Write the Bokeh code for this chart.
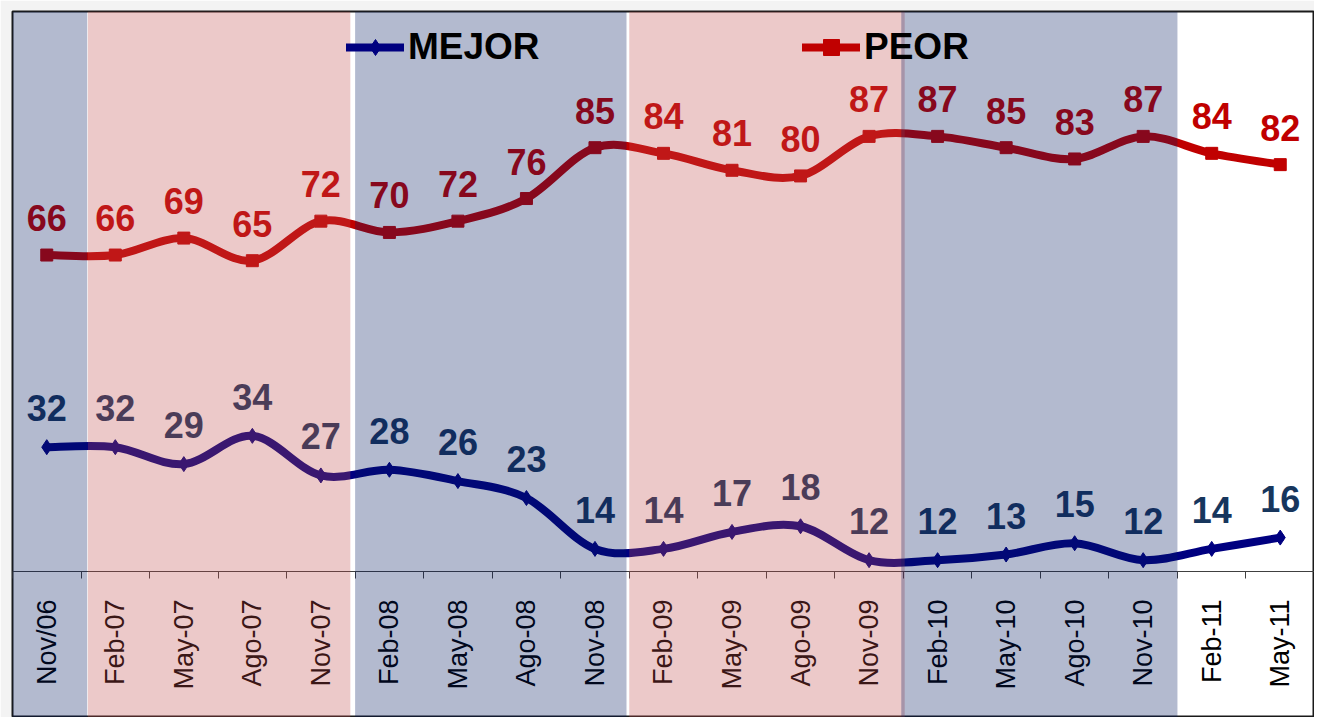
import math
from bokeh.plotting import figure
from bokeh.models import (Range1d, LinearAxis, FixedTicker, BoxAnnotation, Legend,
                          LegendItem, ColumnDataSource)
from bokeh.core.properties import value
from bokeh.embed import file_html
from bokeh.resources import INLINE

# ---- data ----
periods = ["Nov/06", "Feb-07", "May-07", "Ago-07", "Nov-07", "Feb-08", "May-08", "Ago-08",
           "Nov-08", "Feb-09", "May-09", "Ago-09", "Nov-09", "Feb-10", "May-10", "Ago-10",
           "Nov-10", "Feb-11", "May-11"]
mejor = [32, 32, 29, 34, 27, 28, 26, 23, 14, 14, 17, 18, 12, 12, 13, 15, 12, 14, 16]
peor = [66, 66, 69, 65, 72, 70, 72, 76, 85, 84, 81, 80, 87, 87, 85, 83, 87, 84, 82]
# shaded periods (in category units along the axis)
band_starts = [0.0, 1.1, 5.0, 9.0, 12.97]
band_ends = [1.09, 4.93, 8.96, 13.02, 17.0]
band_kind = ["blue", "pink", "blue", "pink", "blue"]

# ---- styles ----
MEJOR_LINE = "#000080"
PEOR_LINE = "#C00000"
MEJOR_TXT = "#17365D"
PEOR_TXT = "#C00000"
BAND_COLORS = {"blue": "#021C5F", "pink": "#C04B4B"}
FONT = value("Liberation Sans")

n = len(periods)
xs = [i + 0.5 for i in range(n)]

p = figure(width=1314, height=717, output_backend="svg", toolbar_location=None,
           x_range=Range1d(0, n), y_range=Range1d(-15.84, 109.1),
           x_axis_type=None, y_axis_type=None,
           min_border_left=12, min_border_right=0, min_border_top=11, min_border_bottom=0)
p.grid.visible = False
p.background_fill_color = "white"
p.border_fill_color = "#F3F3F3"
p.outline_line_color = "#1A1A1A"
p.outline_line_width = 2


def smooth_segments(x, y):
    """Cubic Bezier control points (Catmull-Rom style smoothing, as in spreadsheet charts)."""
    x0, y0, x1, y1, cx0, cy0, cx1, cy1 = [], [], [], [], [], [], [], []
    m = len(x)
    for i in range(m - 1):
        a = max(i - 1, 0)
        d = min(i + 2, m - 1)
        x0.append(x[i]); y0.append(y[i])
        x1.append(x[i + 1]); y1.append(y[i + 1])
        cx0.append(x[i] + (x[i + 1] - x[a]) / 6.0)
        cy0.append(y[i] + (y[i + 1] - y[a]) / 6.0)
        cx1.append(x[i + 1] - (x[d] - x[i]) / 6.0)
        cy1.append(y[i + 1] - (y[d] - y[i]) / 6.0)
    return dict(x0=x0, y0=y0, x1=x1, y1=y1, cx0=cx0, cy0=cy0, cx1=cx1, cy1=cy1)


src_m = ColumnDataSource(smooth_segments(xs, mejor))
src_p = ColumnDataSource(smooth_segments(xs, peor))

bz_m = p.bezier(x0="x0", y0="y0", x1="x1", y1="y1", cx0="cx0", cy0="cy0", cx1="cx1", cy1="cy1",
                source=src_m, line_color=MEJOR_LINE, line_width=8, line_cap="round")
bz_p = p.bezier(x0="x0", y0="y0", x1="x1", y1="y1", cx0="cx0", cy0="cy0", cx1="cx1", cy1="cy1",
                source=src_p, line_color=PEOR_LINE, line_width=8, line_cap="round")
mk_m = p.scatter(xs, mejor, marker="diamond", size=15, fill_color=MEJOR_LINE, line_color=MEJOR_LINE)
mk_p = p.scatter(xs, peor, marker="square", size=12, fill_color=PEOR_LINE, line_color=PEOR_LINE)

p.text(xs, mejor, text=[str(v) for v in mejor], text_font=FONT, text_font_style="bold",
       text_font_size="36px", text_color=MEJOR_TXT, text_align="center",
       text_baseline="alphabetic", y_offset=-39)
p.text(xs, peor, text=[str(v) for v in peor], text_font=FONT, text_font_style="bold",
       text_font_size="36px", text_color=PEOR_TXT, text_align="center",
       text_baseline="alphabetic", y_offset=-37)

# category axis drawn inside the frame at value 10
ax = LinearAxis(fixed_location=10,
                ticker=FixedTicker(ticks=xs, minor_ticks=list(range(n + 1))),
                major_label_overrides={x: lab for x, lab in zip(xs, periods)},
                major_label_orientation=math.pi / 2,
                major_label_text_font="Liberation Sans",
                major_label_text_font_size="27px",
                major_label_text_color="#000000",
                major_label_standoff=21,
                major_tick_out=0, major_tick_in=0, major_tick_line_color=None,
                minor_tick_out=7, minor_tick_in=0, minor_tick_line_color="#404040",
                axis_line_color="#404040", axis_line_width=1)
p.add_layout(ax, "below")


def make_legend(label, renderers, x):
    lg = Legend(items=[LegendItem(label=label, renderers=renderers)],
                location=(x, 649), orientation="horizontal",
                glyph_width=58, glyph_height=40, label_height=40, label_standoff=4,
                padding=0, margin=0, border_line_color=None, background_fill_alpha=0,
                label_text_font="Liberation Sans", label_text_font_style="bold",
                label_text_font_size="37px", label_text_color="#000000")
    p.add_layout(lg, "center")


make_legend("MEJOR", [bz_m, mk_m], 334)
make_legend("PEOR", [bz_p, mk_p], 790)

for s, e, k in zip(band_starts, band_ends, band_kind):
    p.add_layout(BoxAnnotation(left=s, right=e, fill_color=BAND_COLORS[k], fill_alpha=0.3,
                               line_color=None, level="overlay"))

open("out.html", "w").write(file_html(p, INLINE))
